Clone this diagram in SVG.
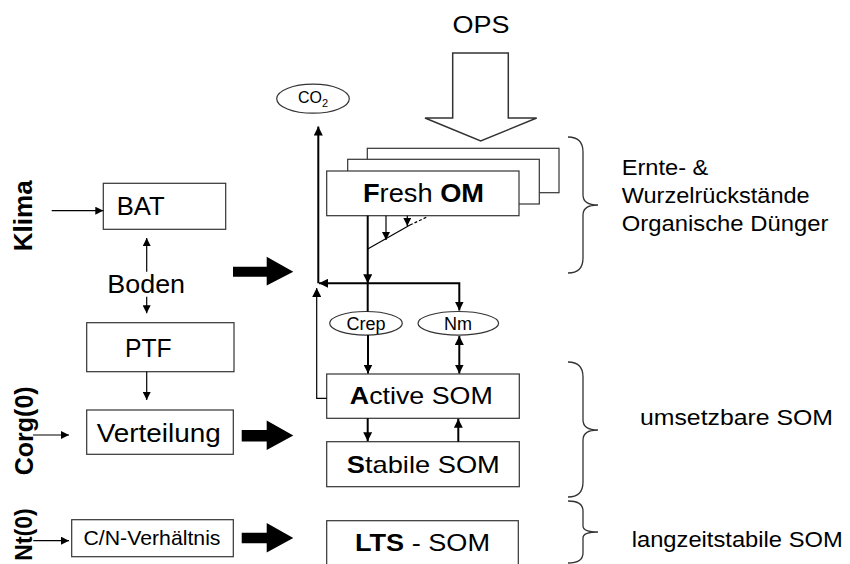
<svg xmlns="http://www.w3.org/2000/svg" width="850" height="564" viewBox="0 0 850 564">
<defs>
<marker id="ah" viewBox="0 0 10 10" refX="10" refY="5" markerWidth="9" markerHeight="9" markerUnits="userSpaceOnUse" orient="auto-start-reverse"><path d="M0,0 L10,5 L0,10 z" fill="#000"/></marker>
<marker id="ahs" viewBox="0 0 10 10" refX="10" refY="5" markerWidth="8" markerHeight="8" markerUnits="userSpaceOnUse" orient="auto-start-reverse"><path d="M0,0 L10,5 L0,10 z" fill="#000"/></marker>
</defs>
<style>
text{font-family:"Liberation Sans",Arial,sans-serif;fill:#000}
.box{fill:#fff;stroke:#333;stroke-width:1.2}
.ell{fill:#fff;stroke:#333;stroke-width:1.2}
.thin{fill:none;stroke:#000;stroke-width:1.2}
.flow{fill:none;stroke:#000;stroke-width:2}
.brace{fill:none;stroke:#333;stroke-width:1.3}
.big{fill:#000}
.b{font-weight:bold}
</style>

<g id="ops">
<text x="481" y="33" font-size="23" text-anchor="middle" textLength="57" lengthAdjust="spacingAndGlyphs">OPS</text>
<polygon points="452.7,53 508.3,53 508.3,118 536.7,118 480.7,141 425,118 452.7,118" fill="#fff" stroke="#333" stroke-width="1.5"/>
</g>

<g id="co2">
<ellipse class="ell" cx="313" cy="98.7" rx="36.3" ry="14.5"/>
<text x="313" y="103" font-size="16" text-anchor="middle">CO<tspan font-size="11" dy="4">2</tspan></text>
</g>

<g id="fresh-om">
<rect class="box" x="367.3" y="148.3" width="191.7" height="44.4"/>
<rect class="box" x="347.7" y="159.3" width="191.6" height="44.7"/>
<rect class="box" x="326.7" y="171" width="192.3" height="44.7"/>
<text x="423.5" y="201.7" font-size="25" text-anchor="middle" textLength="121" lengthAdjust="spacingAndGlyphs"><tspan class="b">F</tspan>resh <tspan class="b">OM</tspan></text>
</g>

<g id="crep">
<ellipse class="ell" cx="366" cy="323.3" rx="36.3" ry="11.8"/>
<text x="366" y="330" font-size="18" text-anchor="middle">Crep</text>
</g>
<g id="nm">
<ellipse class="ell" cx="458.3" cy="323.3" rx="40.3" ry="11.8"/>
<text x="458" y="330" font-size="18" text-anchor="middle">Nm</text>
</g>

<g id="active-som">
<rect class="box" x="326.7" y="374" width="192.6" height="44.3"/>
<text x="421.3" y="404" font-size="24" text-anchor="middle" textLength="143" lengthAdjust="spacingAndGlyphs"><tspan class="b">A</tspan>ctive SOM</text>
</g>
<g id="stabile-som">
<rect class="box" x="326.7" y="441.7" width="192.6" height="45"/>
<text x="423.3" y="472.7" font-size="24" text-anchor="middle" textLength="153" lengthAdjust="spacingAndGlyphs"><tspan class="b">S</tspan>tabile SOM</text>
</g>
<g id="lts-som">
<rect class="box" x="326.7" y="520.7" width="191.6" height="50"/>
<text x="422.5" y="550.7" font-size="24" text-anchor="middle" textLength="135" lengthAdjust="spacingAndGlyphs"><tspan class="b">LTS</tspan> - SOM</text>
</g>

<g id="klima">
<text transform="translate(31.7,215.8) rotate(-90)" font-size="26" class="b" text-anchor="middle">Klima</text>
</g>
<g id="bat">
<rect class="box" x="103.3" y="183.3" width="122.4" height="46"/>
<text x="116.7" y="215" font-size="25" textLength="48" lengthAdjust="spacingAndGlyphs">BAT</text>
</g>
<g id="boden">
<text x="146.2" y="293.3" font-size="25" text-anchor="middle" textLength="77.7" lengthAdjust="spacingAndGlyphs">Boden</text>
</g>
<g id="ptf">
<rect class="box" x="86.7" y="322.7" width="147.3" height="49"/>
<text x="148.3" y="356.7" font-size="25" text-anchor="middle" textLength="46.7" lengthAdjust="spacingAndGlyphs">PTF</text>
</g>
<g id="corg">
<text transform="translate(32.5,430.8) rotate(-90)" font-size="25" class="b" text-anchor="middle">Corg(0)</text>
</g>
<g id="verteilung">
<rect class="box" x="86.7" y="410" width="146.6" height="44.3"/>
<text x="158.7" y="441.7" font-size="25" text-anchor="middle" textLength="124" lengthAdjust="spacingAndGlyphs">Verteilung</text>
</g>
<g id="nt">
<text transform="translate(32,508.3) rotate(-90)" font-size="23" class="b" text-anchor="end">Nt(0)</text>
</g>
<g id="cn">
<rect class="box" x="71.7" y="519.7" width="161.6" height="37"/>
<text x="152" y="545" font-size="21" text-anchor="middle" textLength="137" lengthAdjust="spacingAndGlyphs">C/N-Verhältnis</text>
</g>

<g id="labels">
<path class="brace" d="M568,137 Q583,137 583,152 L583,195 Q583,205 598,205 Q583,205 583,215 L583,258 Q583,273 568,273"/>
<text x="621.7" y="175" font-size="22" textLength="86.7" lengthAdjust="spacingAndGlyphs">Ernte- &amp;</text>
<text x="621.7" y="203.3" font-size="22" textLength="188" lengthAdjust="spacingAndGlyphs">Wurzelrückstände</text>
<text x="621.7" y="231" font-size="22" textLength="206.7" lengthAdjust="spacingAndGlyphs">Organische Dünger</text>
<path class="brace" d="M568,362 Q583,362 583,377 L583,420 Q583,430 598,430 Q583,430 583,440 L583,482 Q583,497 568,497"/>
<text x="640" y="425" font-size="22" textLength="193" lengthAdjust="spacingAndGlyphs">umsetzbare SOM</text>
<path class="brace" d="M568,501 Q583,501 583,511 L583,526 Q583,532 598,532 Q583,532 583,538 L583,553 Q583,563 568,563"/>
<text x="631.7" y="546.7" font-size="22" textLength="211" lengthAdjust="spacingAndGlyphs">langzeitstabile SOM</text>
</g>

<g id="connectors">
<path class="big" d="M233,266.7 H266.7 V256.7 L293.3,271.7 L266.7,285.5 V276.7 H233 Z"/>
<path class="big" d="M241.7,430 H266.7 V420.5 L293.3,435.5 L266.7,450 V441.5 H241.7 Z"/>
<path class="big" d="M241.7,532.7 H266.7 V523 L293.3,538 L266.7,552.5 V543.3 H241.7 Z"/>

<path class="thin" d="M51.7,210.7 H103.3" marker-end="url(#ahs)"/>
<path class="thin" d="M146.7,271.7 V238" marker-end="url(#ahs)"/>
<path class="thin" d="M146.7,296.7 V313.3" marker-end="url(#ahs)"/>
<path class="thin" d="M146.7,371.7 V400" marker-end="url(#ahs)"/>
<path class="thin" d="M33,435 H69" marker-end="url(#ahs)"/>
<path class="thin" d="M33.3,540.7 H69" marker-end="url(#ahs)"/>

<path class="flow" d="M367.7,215.7 V283.3" marker-end="url(#ah)"/>
<path class="thin" d="M386,215.7 V240" marker-end="url(#ahs)"/>
<path class="thin" d="M407.3,215.7 V226" marker-end="url(#ahs)"/>
<path class="thin" d="M367.7,249 L410,225"/>
<path class="thin" d="M410,225 L428,216.5" stroke-dasharray="3,2"/>
<path class="flow" d="M367.7,283.3 H319" marker-end="url(#ah)"/>
<path class="flow" d="M367.7,283.3 H459.3 V310.5" marker-end="url(#ah)"/>
<path class="flow" d="M367.7,283.3 V311.5"/>
<path class="flow" d="M318.3,283.3 V126.5" marker-end="url(#ah)"/>
<path class="thin" d="M326.7,398.3 H316.7 V288" marker-end="url(#ah)"/>
<path class="flow" d="M368,335 V373.5" marker-end="url(#ah)"/>
<path class="flow" d="M459.3,336 V373.5" marker-start="url(#ah)" marker-end="url(#ah)"/>
<path class="flow" d="M367.7,418.3 V441.2" marker-end="url(#ah)"/>
<path class="flow" d="M458.3,441.7 V418.8" marker-end="url(#ah)"/>
</g>
</svg>
